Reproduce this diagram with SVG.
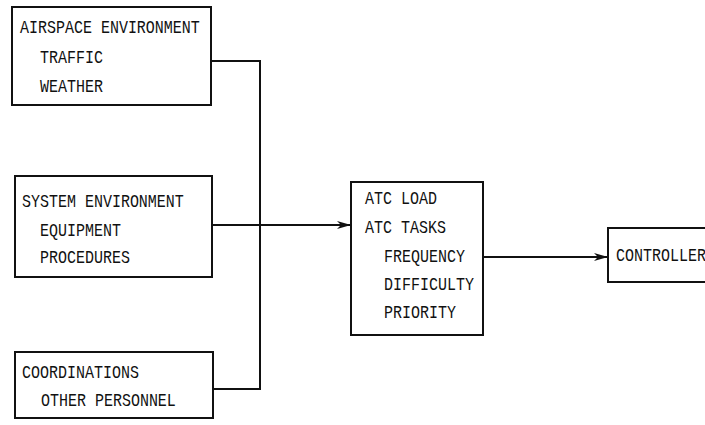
<svg xmlns="http://www.w3.org/2000/svg" width="705" height="425" viewBox="0 0 705 425">
<defs>
<style>
.box{fill:#fff;stroke:#111;stroke-width:2}
.t{font-family:"Liberation Mono","DejaVu Sans Mono",monospace;font-size:15px;fill:#111}
.c{fill:none;stroke:#111;stroke-width:2}
</style>
<marker id="ah" viewBox="0 0 14 8" refX="14" refY="4" markerWidth="14" markerHeight="8" markerUnits="userSpaceOnUse" orient="auto">
<path d="M0,0 L14,4 L0,8 L4,4 Z" fill="#111"/>
</marker>
</defs>
<g id="connectors">
<polyline class="c" points="211,61 260,61 260,389 213,389"/>
<line class="c" x1="212" y1="225" x2="351" y2="225" marker-end="url(#ah)"/>
<line class="c" x1="483" y1="257" x2="608" y2="257" marker-end="url(#ah)"/>
</g>
<g id="airspace">
<rect class="box" x="12" y="7" width="199" height="98"/>
<text class="t" transform="translate(20,33) scale(1,1.2)">AIRSPACE ENVIRONMENT</text>
<text class="t" transform="translate(40,63) scale(1,1.2)">TRAFFIC</text>
<text class="t" transform="translate(40,92) scale(1,1.2)">WEATHER</text>
</g>
<g id="system">
<rect class="box" x="15" y="176" width="197" height="101"/>
<text class="t" transform="translate(22,207) scale(1,1.2)">SYSTEM ENVIRONMENT</text>
<text class="t" transform="translate(40,236) scale(1,1.2)">EQUIPMENT</text>
<text class="t" transform="translate(40,263) scale(1,1.2)">PROCEDURES</text>
</g>
<g id="coordinations">
<rect class="box" x="15" y="352" width="198" height="66"/>
<text class="t" transform="translate(22,378) scale(1,1.2)">COORDINATIONS</text>
<text class="t" transform="translate(41,406) scale(1,1.2)">OTHER PERSONNEL</text>
</g>
<g id="atcload">
<rect class="box" x="351" y="182" width="132" height="153"/>
<text class="t" transform="translate(365,204) scale(1,1.2)">ATC LOAD</text>
<text class="t" transform="translate(365,233) scale(1,1.2)">ATC TASKS</text>
<text class="t" transform="translate(384,262) scale(1,1.2)">FREQUENCY</text>
<text class="t" transform="translate(384,290) scale(1,1.2)">DIFFICULTY</text>
<text class="t" transform="translate(384,318) scale(1,1.2)">PRIORITY</text>
</g>
<g id="controller">
<rect class="box" x="608" y="228" width="120" height="54"/>
<text class="t" transform="translate(616,261) scale(1,1.2)">CONTROLLER</text>
</g>
</svg>
